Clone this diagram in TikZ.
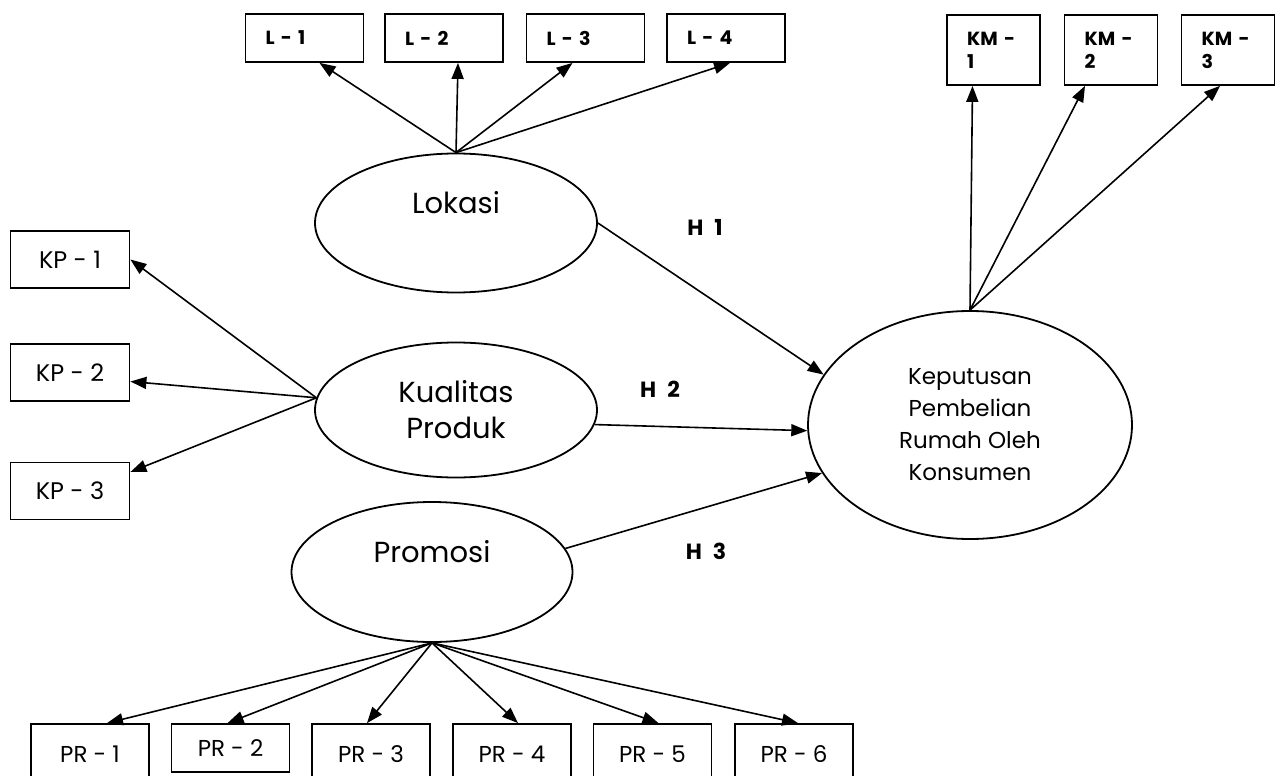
\documentclass[tikz,border=0pt]{standalone}
\usepackage{fontspec}
\setmainfont{Poppins}
\usetikzlibrary{arrows.meta,shapes.geometric}

\begin{document}
\begin{tikzpicture}[x=1pt,y=-1pt,
    every node/.style={inner sep=0pt},
    konstruk/.style={draw,ellipse,line width=1.8pt,font=\fontsize{29}{36}\selectfont},
    konstrukatas/.style={konstruk,text height=21pt,text depth=41pt},
    kotak/.style={draw,rectangle,line width=1.8pt},
    kotakL/.style={kotak,minimum height=48pt,text width=78pt,inner xsep=20pt,align=left,font=\fontsize{19}{23}\bfseries\selectfont},
    kotakKM/.style={kotak,minimum height=70pt,text width=53pt,inner xsep=20pt,align=left,font=\fontsize{19}{23}\bfseries\selectfont},
    kotakKP/.style={kotak,minimum width=119pt,minimum height=57pt,font=\fontsize{24}{28}\selectfont},
    kotakPR/.style={kotak,minimum width=118pt,minimum height=60pt,font=\fontsize{23}{28}\selectfont},
    hipo/.style={font=\fontsize{22}{25}\bfseries\selectfont},
    panah/.style={-{Triangle[length=16pt,width=12pt]},line width=1.6pt}]
  \useasboundingbox (0,0) rectangle (1283,776);

  % variabel laten
  \node[konstrukatas,minimum width=282pt,minimum height=139pt] (lok) at (456,223) {Lokasi};
  \node[konstruk,minimum width=282pt,minimum height=135pt,align=center] (kual) at (456,410) {Kualitas\\Produk};
  \node[konstrukatas,minimum width=281pt,minimum height=140pt] (prom) at (432,572) {Promosi};
  \node[konstruk,minimum width=324pt,minimum height=228pt,align=center,font=\fontsize{23}{32}\selectfont] (kep) at (970,425) {Keputusan\\Pembelian\\Rumah Oleh\\Konsumen};

  % indikator lokasi
  \node[kotakL] (l1) at (304.5,38) {L - 1};
  \node[kotakL] (l2) at (444,38) {L - 2};
  \node[kotakL] (l3) at (585.5,38) {L - 3};
  \node[kotakL] (l4) at (726,38) {L - 4};

  % indikator keputusan
  \node[kotakKM] (km1) at (993.5,50) {KM -\\1};
  \node[kotakKM] (km2) at (1111,50) {KM -\\2};
  \node[kotakKM] (km3) at (1228,50) {KM -\\3};

  % indikator kualitas produk
  \node[kotakKP] (kp1) at (70,259.5) {KP - 1};
  \node[kotakKP] (kp2) at (70,372.5) {KP - 2};
  \node[kotakKP] (kp3) at (70,491) {KP - 3};

  % indikator promosi
  \node[kotakPR] (pr1) at (90,754) {PR - 1};
  \node[kotakPR,minimum height=48pt] (pr2) at (230.5,748) {PR - 2};
  \node[kotakPR] (pr3) at (371,754) {PR - 3};
  \node[kotakPR] (pr4) at (512,754) {PR - 4};
  \node[kotakPR] (pr5) at (652.5,754) {PR - 5};
  \node[kotakPR] (pr6) at (794,754) {PR - 6};

  % hipotesis
  \node[hipo] (h1) at (705,227) {H\enspace 1};
  \node[hipo] (h2) at (660,389) {H\enspace 2};
  \node[hipo] (h3) at (706,551) {H\enspace 3};

  \draw[panah](lok.north) -- ([xshift=15pt]l1.south);
  \draw[panah](lok.north) -- ([xshift=14pt]l2.south);
  \draw[panah](lok.north) -- ([xshift=-13pt]l3.south);
  \draw[panah](lok.north) -- ([xshift=4pt]l4.south);

  \draw[panah](kep.north) -- ([xshift=-21pt]km1.south);
  \draw[panah](kep.north) -- ([xshift=-26pt]km2.south);
  \draw[panah](kep.north) -- ([xshift=-8pt]km3.south);

  \draw[panah](kual.175) -- (kp1.east);
  \draw[panah](kual.175) -- ([yshift=-9pt]kp2.east);
  \draw[panah](kual.175) -- ([yshift=19pt]kp3.east);

  \draw[panah](prom.south) -- ([xshift=17pt]pr1.north);
  \draw[panah](prom.south) -- ([xshift=-3pt]pr2.north);
  \draw[panah](prom.south) -- ([xshift=-4pt]pr3.north);
  \draw[panah](prom.south) -- ([xshift=6pt]pr4.north);
  \draw[panah](prom.south) -- ([xshift=6pt]pr5.north);
  \draw[panah](prom.south) -- ([xshift=4pt]pr6.north);

  \draw[panah](lok.east) -- (kep.161);
  \draw[panah](kual.-6) -- (kep.182);
  \draw[panah](prom.10) -- (kep.198);
\end{tikzpicture}
\end{document}
